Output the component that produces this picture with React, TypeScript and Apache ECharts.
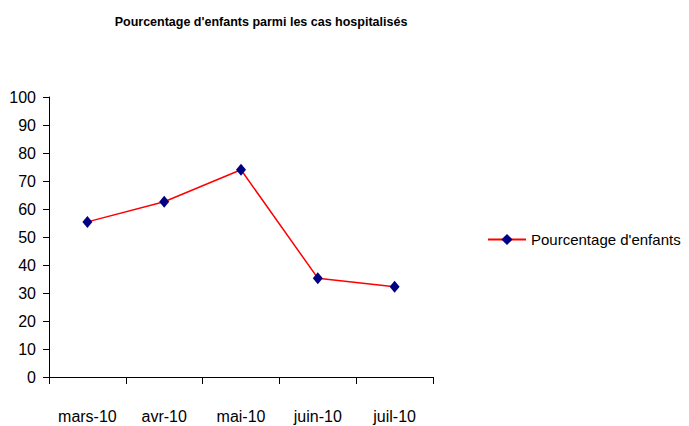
import React, { useEffect, useRef } from "react";
import * as echarts from "echarts";

const categories = ["mars-10", "avr-10", "mai-10", "juin-10", "juil-10"];
const seriesName = "Pourcentage d'enfants";
const values = [55.4, 62.6, 74, 35.3, 32.2];
const chartTitle = "Pourcentage d'enfants parmi les cas hospitalisés";
const yMin = 0;
const yMax = 100;
const yStep = 10;

const FONT = "'Liberation Sans Narrow', 'Arial Narrow', 'Liberation Sans', Arial, sans-serif";

export default function App() {
  const ref = useRef<HTMLDivElement>(null);
  useEffect(() => {
    if (!ref.current) return;
    const chart = echarts.init(ref.current, undefined, { renderer: "svg" });
    chart.setOption({
      animation: false,
      backgroundColor: "#ffffff",
      graphic: [
        {
          type: "text",
          x: 261,
          y: 22,
          style: {
            text: chartTitle,
            fontFamily: FONT,
            fontWeight: "bold",
            fontSize: 12.5,
            fill: "#000",
            textAlign: "center",
            textVerticalAlign: "middle",
          },
        },
      ],
      grid: { left: 49, right: 256, top: 97, bottom: 49, containLabel: false },
      legend: {
        left: 487,
        top: 232,
        padding: 0,
        itemWidth: 38,
        itemHeight: 14,
        itemGap: 5,
        textStyle: { fontFamily: FONT, fontSize: 15, color: "#000" },
        data: [seriesName],
      },
      xAxis: {
        type: "category",
        data: categories,
        boundaryGap: true,
        axisLine: { lineStyle: { color: "#000", width: 1 } },
        axisTick: { show: true, length: 7, lineStyle: { color: "#000" } },
        axisLabel: { fontFamily: FONT, fontSize: 16, color: "#000", margin: 31, interval: 0 },
        splitLine: { show: false },
      },
      yAxis: {
        type: "value",
        min: yMin,
        max: yMax,
        interval: yStep,
        axisLine: { show: true, lineStyle: { color: "#000", width: 1 } },
        axisTick: { show: true, length: 6, lineStyle: { color: "#000" } },
        axisLabel: { fontFamily: FONT, fontSize: 16, color: "#000", margin: 13 },
        splitLine: { show: false },
      },
      series: [
        {
          name: seriesName,
          type: "line",
          data: values,
          symbol: "diamond",
          symbolSize: [10, 12],
          lineStyle: { color: "#ff0000", width: 1.5 },
          itemStyle: { color: "#000080" },
        },
      ],
    });
    return () => chart.dispose();
  }, []);
  return <div ref={ref} style={{ width: 689, height: 426, position: "absolute", left: 0, top: 0 }} />;
}
